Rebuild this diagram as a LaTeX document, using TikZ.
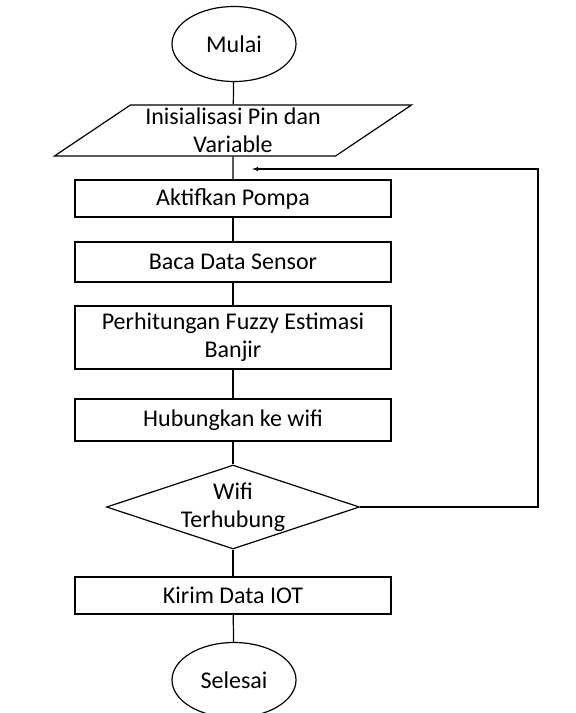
\documentclass[tikz,border=0pt]{standalone}
\usepackage{fontspec}
\setmainfont{Carlito}
\usetikzlibrary{arrows}
\usetikzlibrary{shapes.geometric}
\usetikzlibrary{positioning}

\begin{document}
\begin{tikzpicture}[x=1pt, y=-1pt, line width=1.2pt,
    every node/.style={font=\fontsize{24}{28}\selectfont, align=center},
    terminal/.style={draw, ellipse, minimum width=124pt, minimum height=75pt, inner sep=0pt},
    io/.style={draw, trapezium, trapezium left angle=34.6, trapezium right angle=145.4,
      trapezium stretches=true, minimum width=358pt, minimum height=51pt, inner sep=0pt},
    process/.style={draw, rectangle, minimum width=316pt, inner sep=0pt},
    decision/.style={draw, diamond, aspect=3, minimum width=253pt, minimum height=84pt, inner sep=0pt}]
    \useasboundingbox (0, 0) rectangle (576, 713);

    \node [terminal] (mulai) at (234, 44) {Mulai};
    \node [io] (init) at (233, 130.5) {Inisialisasi Pin dan\\Variable};
    \node [process, minimum height=37pt] (aktif) at (233, 198.5) {Aktifkan Pompa};
    \node [process, minimum height=40pt] (baca) at (233, 262) {Baca Data Sensor};
    \node [process, minimum height=63pt] (fuzzy) at (233, 337.5) {Perhitungan Fuzzy Estimasi\\Banjir};
    \node [process, minimum height=42pt] (hubung) at (233, 420) {Hubungkan ke wifi};
    \node [decision] (wifi) at (233, 507) {Wifi\\Terhubung};
    \node [process, minimum height=37pt] (kirim) at (233, 595.5) {Kirim Data IOT};
    \node [terminal] (selesai) at (234, 680) {Selesai};

    \foreach \a/\b in {mulai/init, init/aktif, aktif/baca, baca/fuzzy,
      fuzzy/hubung, hubung/wifi, wifi/kirim, kirim/selesai} {
      \draw (\a) -- (\b);
    };

    \coordinate (loop) at (252, 169);% back to the pump
    \draw [-latex'] (wifi.east) -| (538, 169) -- (loop);
\end{tikzpicture}
\end{document}
